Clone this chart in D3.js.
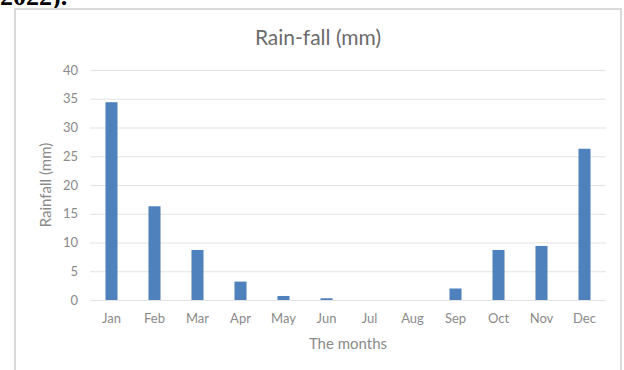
<!DOCTYPE html>
<html lang="en">
<head>
<meta charset="UTF-8"/>
<title>Rain-fall (mm)</title>
<script src="https://d3js.org/d3.v7.min.js"></script>
<style>
  body { margin: 0; background: #fff; }
  svg { display: block; }
</style>
</head>
<body>
<script>
  var months = ["Jan","Feb","Mar","Apr","May","Jun","Jul","Aug","Sep","Oct","Nov","Dec"];
  var rainfall = [34.4, 16.3, 8.7, 3.2, 0.7, 0.3, 0, 0, 2.0, 8.7, 9.4, 26.3];
  var yTicks = [0, 5, 10, 15, 20, 25, 30, 35, 40];

  var w = 624, h = 370;
  var plotLeft = 90, plotRight = 606, plotTop = 70, plotBottom = 300;

  var svg = d3.select("body").append("svg")
      .attr("width", w)
      .attr("height", h);

  // leftover text from the document above the chart
  svg.append("text")
      .attr("x", 0)
      .attr("y", 5)
      .style("font-family", "'Liberation Serif', 'DejaVu Serif', serif")
      .attr("font-weight", "bold")
      .attr("font-size", 26)
      .attr("fill", "#000")
      .text("2022).");

  // chart frame
  svg.append("rect")
      .attr("x", 15)
      .attr("y", 9)
      .attr("width", 606)
      .attr("height", 380)
      .attr("fill", "#fff")
      .attr("stroke", "#d9d9d9")
      .attr("stroke-width", 2);

  var x = d3.scaleBand()
      .domain(months)
      .range([plotLeft, plotRight])
      .paddingInner(0.72)
      .paddingOuter(0.36);

  var y = d3.scaleLinear()
      .domain([0, 40])
      .range([plotBottom, plotTop]);

  // gridlines
  svg.append("g")
      .selectAll("line")
      .data(yTicks)
      .enter()
      .append("line")
      .attr("x1", plotLeft)
      .attr("x2", plotRight)
      .attr("y1", function(d) { return y(d) + 0.5; })
      .attr("y2", function(d) { return y(d) + 0.5; })
      .attr("stroke", "#e3e3e3")
      .attr("stroke-width", 1);

  svg.append("g")
      .selectAll("rect")
      .data(rainfall)
      .enter()
      .append("rect")
      .attr("x", function(d, i) { return x(months[i]); })
      .attr("y", function(d) { return y(d); })
      .attr("width", x.bandwidth())
      .attr("height", function(d) { return plotBottom - y(d); })
      .attr("fill", "#4f81bd");

  var font = "Lato, 'Open Sans', sans-serif";

  var yAxis = d3.axisLeft(y).tickValues(yTicks).tickSize(0).tickPadding(0);
  var gy = svg.append("g")
      .attr("transform", "translate(78,0)")
      .call(yAxis);
  gy.select(".domain").remove();
  gy.selectAll("text")
      .attr("font-family", font)
      .attr("font-size", 13)
      .attr("fill", "#8a8a8a");

  var xAxis = d3.axisBottom(x).tickSize(0).tickPadding(0);
  var gx = svg.append("g")
      .attr("transform", "translate(0,314)")
      .call(xAxis);
  gx.select(".domain").remove();
  gx.selectAll("text")
      .attr("font-family", font)
      .attr("font-size", 13)
      .attr("fill", "#8a8a8a");

  // title
  svg.append("text")
      .attr("x", 318)
      .attr("y", 45)
      .attr("text-anchor", "middle")
      .attr("font-family", font)
      .attr("font-size", 21)
      .attr("fill", "#6b6b6b")
      .text("Rain-fall (mm)");

  // X-axis label
  svg.append("text")
      .attr("x", (plotLeft + plotRight) / 2)
      .attr("y", 349)
      .attr("text-anchor", "middle")
      .attr("font-family", font)
      .attr("font-size", 15)
      .attr("fill", "#8a8a8a")
      .text("The months");

  // Y-axis label
  svg.append("text")
      .attr("transform", "rotate(-90)")
      .attr("x", -(plotTop + plotBottom) / 2)
      .attr("y", 51)
      .attr("text-anchor", "middle")
      .attr("font-family", font)
      .attr("font-size", 15)
      .attr("fill", "#8a8a8a")
      .text("Rainfall (mm)");
</script>
</body>
</html>
